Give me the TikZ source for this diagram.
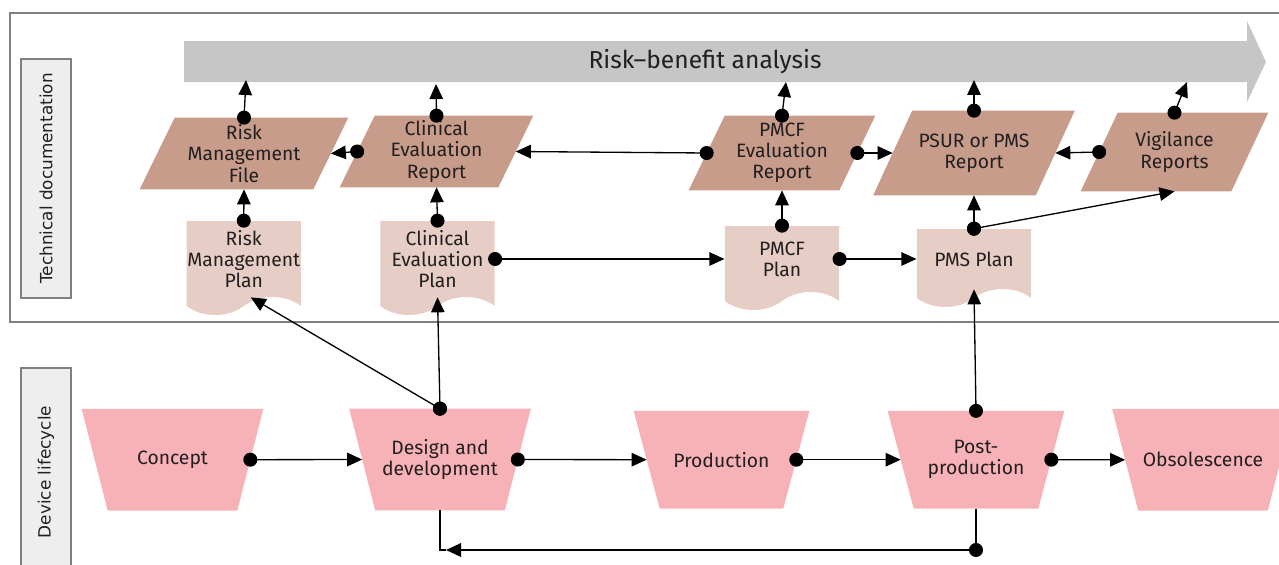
\documentclass[tikz,border=0pt]{standalone}
\usepackage{fontspec}
\setmainfont{Fira Sans}
\newfontfamily\sidefont{DejaVu Sans}
\usetikzlibrary{arrows.meta,shapes.symbols,backgrounds}

\definecolor{bandgray}{HTML}{C6C6C6}
\definecolor{framegray}{HTML}{808080}
\definecolor{sidegray}{HTML}{EEEEEE}
\definecolor{reportbrown}{HTML}{C79C8A}
\definecolor{planpink}{HTML}{E6CDC5}
\definecolor{stagepink}{HTML}{F7B2B7}
\definecolor{inkdark}{HTML}{231F20}

\tikzset{
  report/.style={rectangle, align=center, text=inkdark, inner sep=0pt,
    font=\fontsize{11}{12}\selectfont},
  plan/.style={tape, tape bend top=none, tape bend bottom=in and out,
    tape bend height=0.36cm, fill=planpink, minimum width=2.29cm, align=center,
    text=inkdark, inner sep=0pt, font=\fontsize{11}{12}\selectfont},
  stage/.style={report, minimum width=3.1cm, minimum height=2.02cm},
  sidebox/.style={draw=framegray, line width=0.85pt, fill=sidegray, rotate=90,
    minimum height=1cm, text=inkdark, font=\sidefont\fontsize{9.6}{11}\selectfont},
  link/.style={line width=0.75pt, shorten <=-0.14cm,
    {Circle[length=0.28cm]}-{Triangle[length=0.3cm,width=0.27cm]}},
  wire/.style={line width=0.75pt}
}

\begin{document}
\begin{tikzpicture}[x=0.02cm,y=-0.02cm]
\useasboundingbox (0,0) rectangle (1279,565);
\clip (0,0) rectangle (1279,565);

% frame and side labels
\draw[framegray, line width=1.1pt] (10,13) rectangle (1300,322);
\node[sidebox, minimum width=4.78cm] (techdoc) at (46,178.5) {Technical documentation};
\node[sidebox, minimum width=4.16cm] (lifecycle) at (46,472) {Device lifecycle};

% risk-benefit band
\fill[bandgray] (184,41) -- (1247,41) -- (1247,21) -- (1266,62) -- (1247,102)
  -- (1247,82) -- (184,82) -- cycle;
\node[text=inkdark, font=\fontsize{14}{16}\selectfont] (rba) at (705,62) {Risk–benefit analysis};
\coordinate (rba1) at (246,80);
\coordinate (rba2) at (436,84);
\coordinate (rba3) at (786,82);
\coordinate (rba4) at (974,80);
\coordinate (rba5) at (1187,82);

% reports
\node[report, minimum width=3.46cm, minimum height=1.42cm] (rmf) at (244,153.5) {Risk\\Management\\File};
\node[report, minimum width=3.16cm, minimum height=1.42cm] (cer) at (436.5,151.5) {Clinical\\Evaluation\\Report};
\node[report, minimum width=3.0cm, minimum height=1.48cm] (pmer) at (782,153) {PMCF\\Evaluation\\Report};
\node[report, minimum width=3.24cm, minimum height=1.68cm] (psur) at (974,153) {PSUR or PMS\\Report};
\node[report, minimum width=3.0cm, minimum height=1.56cm] (vig) at (1174.5,152) {Vigilance\\Reports};

% plans
\node[plan, minimum height=1.88cm] (rmp) at (243.75,259) {Risk\\Management\\Plan};
\node[plan, minimum height=1.88cm] (cep) at (437.5,259) {Clinical\\Evaluation\\Plan};
\node[plan, minimum height=1.68cm] (pmcfp) at (782,259) {PMCF\\Plan};
\node[plan, minimum height=1.56cm] (pmsp) at (974,259) {PMS Plan};

% lifecycle stages
\node[stage] (cpt) at (172.5,459.7) {Concept};
\node[stage] (dsg) at (440,459.5) {Design and\\development};
\node[stage, minimum width=2.98cm, minimum height=1.94cm] (prd) at (721.5,459.7) {Production};
\node[stage, minimum width=3.0cm, minimum height=1.94cm] (post) at (976,459.7) {Post-\\production};
\node[stage] (obs) at (1203,459.8) {Obsolescence};

% slanted outlines behind the texts
\begin{scope}[on background layer]
\foreach \n/\s in {rmf/17.5, cer/17.5, pmer/18, psur/19.5, vig/18.5}
  \fill[reportbrown] ([shift={(\s,0)}]\n.north west) -- ([shift={(\s,0)}]\n.north east)
    -- ([shift={(-\s,0)}]\n.south east) -- ([shift={(-\s,0)}]\n.south west) -- cycle;
\foreach \n in {cpt, dsg, prd, post, obs}
  \fill[stagepink] ([shift={(-13,0)}]\n.north west) -- ([shift={(13,0)}]\n.north east)
    -- ([shift={(-13,0)}]\n.south east) -- ([shift={(13,0)}]\n.south west) -- cycle;
\end{scope}

% connectors
\draw[link] (rmf.north) -- (rba1);
\draw[link] (cer.north) -- (rba2);
\draw[link] (pmer.north) -- (rba3);
\draw[link] (psur.north) -- (rba4);
\draw[link] (vig.north) -- (rba5);
\draw[link] (cer.west) -- (rmf.east);
\draw[link] (pmer.west) -- (cer.east);
\draw[link] (pmer.east) -- (psur.west);
\draw[link] (vig.west) -- (psur.east);
\draw[link] (rmp.north) -- (rmf.south);
\draw[link] (cep.north) -- (cer.south);
\draw[link] (pmcfp.north) -- (pmer.south);
\draw[link] (pmsp.north) -- (psur.south);
\draw[link] (pmsp.north) -- (vig.south);
\draw[link] (cep.east) -- (pmcfp.west);
\draw[link] (pmcfp.east) -- (pmsp.west);
\draw[link] (dsg.north) -- ([shift={(7,0)}]rmp.south);
\draw[link] (dsg.north) -- (cep.south);
\draw[link] (post.north) -- (pmsp.south);
\draw[link] (cpt.east) -- (dsg.west);
\draw[link] (dsg.east) -- (prd.west);
\draw[link] (prd.east) -- (post.west);
\draw[link] (post.east) -- (obs.west);

% feedback loop
\coordinate (fbr) at (976,550);
\coordinate (fbl) at (446,550);
\draw[wire] (post.south) -- (fbr);
\draw[wire] (dsg.south) |- (fbl);
\draw[link, line width=1.1pt] (fbr) -- (fbl);
\end{tikzpicture}
\end{document}
